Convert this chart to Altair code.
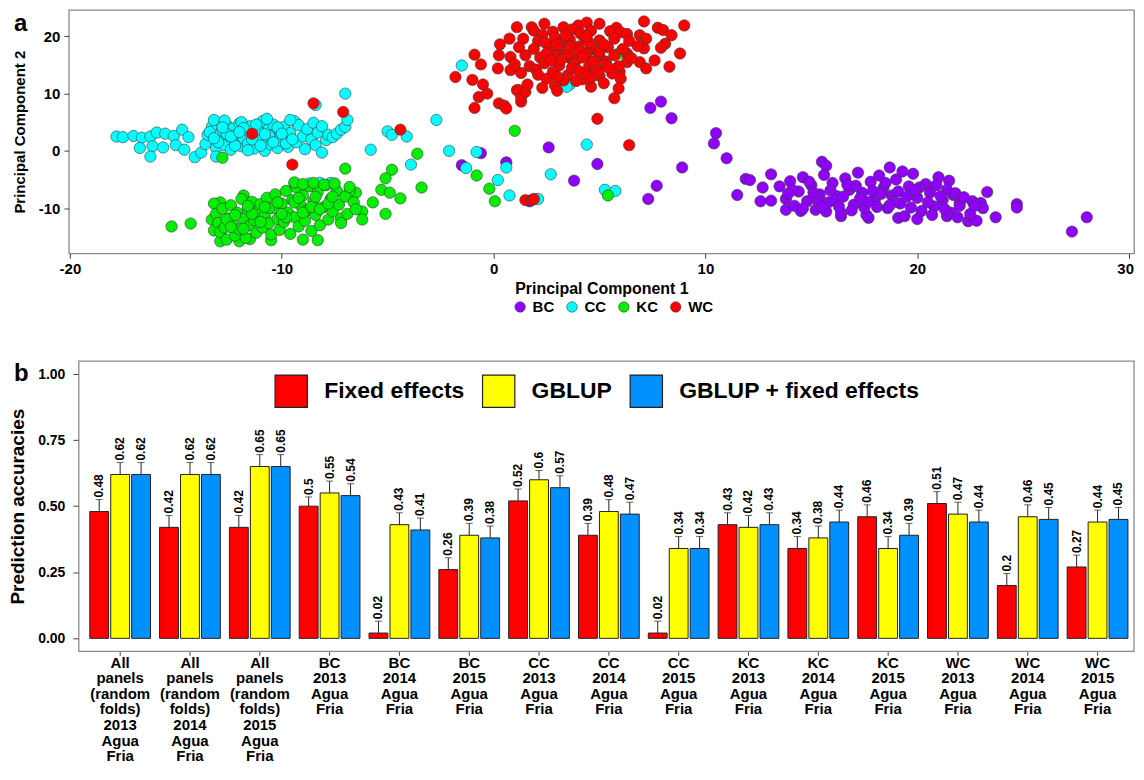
import altair as alt
import pandas as pd

FONT = "Liberation Sans"

# ---------------- Panel a: PCA scores (PC1, PC2) ----------------
populations = ["BC", "CC", "KC", "WC"]
pop_colors = ["#8f00ff", "#00ffff", "#00ee00", "#ff0000"]

bc_points = [
    [-0.6, -0.4], [-1.5, -2.5], [0.6, -2.0], [2.6, 0.6], [4.9, -2.3], [3.8, -5.2], [7.4, 7.5], [7.9, 8.6],
    [8.4, 5.7], [8.9, -2.9], [7.7, -6.1], [7.3, -8.4], [10.5, 3.1], [10.4, 1.3], [1.7, -8.8], [11.0, -1.3],
    [11.5, -7.7], [11.9, -4.9], [12.1, -5.1], [12.6, -8.8], [12.7, -6.4], [13.1, -4.1], [13.1, -8.7],
    [13.8, -10.3], [14.5, -10.5], [15.5, -1.9], [15.7, -2.6], [18.7, -2.9], [15.7, -10.6], [16.4, -11.4],
    [17.7, -11.7], [19.1, -11.7], [20.0, -11.9], [21.5, -5.2], [21.4, -11.4], [22.4, -12.3], [22.8, -12.2],
    [23.3, -7.2], [23.7, -11.6], [24.7, -9.3], [24.7, -9.9], [27.3, -14.1], [28.0, -11.6], [22.6, -8.8],
    [23.0, -9.1], [23.1, -10.0], [22.0, -9.1], [21.7, -7.7],
    [13.5, -6.2], [13.8, -8.4], [14.0, -5.3], [14.2, -9.6], [14.4, -7.1], [14.6, -4.6], [14.8, -8.8],
    [15.0, -6.0], [15.2, -10.3], [15.4, -7.6], [15.6, -4.2], [15.8, -9.0], [16.0, -5.6], [16.2, -7.9],
    [16.4, -10.8], [16.6, -4.8], [16.8, -6.8], [17.0, -9.4], [17.2, -3.8], [17.4, -7.3], [17.6, -11.2],
    [17.8, -5.4], [18.0, -8.6], [18.2, -4.3], [18.4, -6.5], [18.6, -10.0], [18.8, -7.8], [19.0, -5.0],
    [19.2, -9.2], [19.4, -11.4], [19.6, -6.2], [19.8, -4.0], [20.0, -8.2], [20.2, -10.5], [20.4, -5.8],
    [20.6, -7.3], [20.8, -9.7], [21.0, -4.6], [21.2, -8.6], [21.4, -6.8], [21.6, -10.8], [21.8, -7.4],
    [22.0, -9.6], [16.1, -8.5], [17.1, -6.1], [18.1, -9.8], [19.1, -7.1], [20.1, -6.4], [15.3, -8.7],
    [16.9, -10.4], [17.9, -7.0], [18.9, -8.9], [19.7, -9.9], [20.7, -11.2], [14.9, -5.4], [15.9, -6.9],
    [16.7, -5.9], [17.5, -9.9], [18.5, -5.6], [19.3, -3.6], [16.5, -8.0], [17.3, -8.3], [18.3, -7.5],
    [19.5, -8.0], [20.5, -9.0], [21.1, -7.9], [15.1, -7.3], [14.1, -6.8], [13.9, -7.5], [22.2, -8.1],
    [21.9, -11.6], [20.9, -6.0], [19.9, -6.9], [18.7, -9.5], [17.7, -8.9], [16.3, -9.7], [15.5, -9.8],
    [14.6, -10.1], [22.5, -11.0], [21.3, -10.2], [22.7, -9.6],
]

cc_points = [
    [-17.8, 2.5], [-17.5, 2.4], [-17.0, 2.6], [-16.6, 2.3], [-16.2, 2.5], [-15.9, 3.2], [-15.5, 3.0],
    [-15.1, 2.6], [-14.7, 3.7], [-14.4, 2.4], [-16.7, 0.5], [-16.1, 0.8], [-15.6, 0.6], [-15.0, 1.0],
    [-14.6, 0.2], [-14.1, -1.1], [-13.8, -0.3], [-16.2, -1.0],
    [-13.6, 1.2], [-13.5, 2.8], [-13.3, 4.2], [-13.2, 5.4], [-13.1, 0.5], [-12.9, 2.0], [-12.8, 3.5],
    [-12.7, 1.0], [-12.6, 4.5], [-12.5, 2.6], [-12.4, 0.2], [-12.3, 3.9], [-12.2, 1.6], [-12.1, 2.9],
    [-12.0, 4.8], [-11.9, 0.8], [-11.8, 2.2], [-11.7, 3.6], [-11.6, 1.3], [-11.5, 4.3], [-11.3, 0.4],
    [-11.2, 2.7], [-11.1, 3.4], [-11.0, 1.8], [-10.9, 5.2], [-10.8, 0.0], [-10.7, 2.3], [-10.6, 3.9],
    [-10.5, 1.1], [-10.4, 4.6], [-10.3, 2.9], [-10.2, 0.5], [-10.1, 3.5], [-10.0, 1.7], [-9.9, 4.2],
    [-9.8, 2.4], [-9.7, 0.7], [-9.6, 3.1],
    [-9.4, 5.2], [-9.3, 1.5], [-9.2, 4.5], [-9.0, 2.5], [-8.9, 0.3], [-8.8, 3.8], [-8.6, 2.0], [-8.5, 4.9],
    [-8.4, 1.0], [-8.3, 3.2], [-8.1, 4.3], [-7.9, 1.9], [-7.8, 2.8], [-7.6, 2.4], [-7.4, 3.0], [-7.2, 3.7],
    [-7.0, 4.2], [-9.6, 5.4], [-11.9, 5.0], [-12.7, 5.3],
    [-13.4, 3.3], [-13.0, 1.5], [-12.6, 3.0], [-12.2, 0.9], [-11.8, 4.0], [-11.4, 2.0], [-11.0, 0.9],
    [-10.6, 2.6], [-10.2, 4.1], [-9.8, 1.3], [-13.2, 2.2], [-12.8, 4.1], [-12.4, 2.5], [-12.0, 3.3],
    [-11.6, 0.1], [-11.2, 4.6], [-10.8, 2.9], [-10.4, 1.5], [-10.0, 3.0], [-9.5, 2.0],
    [-7.0, 10.0], [-6.9, 5.4], [-8.4, 8.0], [-5.8, 0.2], [-5.0, 3.4], [-4.8, 2.8], [-4.1, 2.5], [-3.9, -2.4],
    [-2.7, 5.4], [-2.1, 0.0], [-1.5, 14.9], [-1.3, -3.0], [-8.1, -0.3], [-10.7, 5.6], [-0.8, -0.2],
    [0.6, -2.9], [0.2, -5.1], [0.75, -7.8], [2.1, -8.4], [2.7, -4.1], [4.4, 1.1], [5.25, -6.8], [5.75, -7.0],
    [3.6, 11.6], [3.45, 11.2], [-8.7, -5.7], [-8.2, -5.6], [-7.7, -5.6], [-13.1, -1.0],
]

kc_points = [
    [-15.2, -13.2], [-14.3, -12.7], [-13.3, -12.0], [-12.8, -1.2], [-7.0, -3.1], [-3.6, -0.5], [-4.8, -3.3],
    [-5.1, -4.8], [-5.3, -6.8], [-4.9, -7.3], [-4.4, -8.3], [-3.4, -6.4], [-5.7, -9.0], [-5.1, -11.0],
    [-6.2, -10.6], [-6.2, -12.0], [-6.5, -7.3], [-6.8, -7.0], [-7.2, -11.8], [-8.3, -15.6], [-9.0, -15.5],
    [-12.9, -15.8], [-12.0, -15.8], [-11.5, -15.4], [-10.5, -15.6], [-13.2, -13.9], [-12.9, -9.0],
    [-11.8, -7.8], [-9.4, -5.7], [1.0, 3.5], [-0.8, -4.3], [-0.2, -6.6], [0.06, -8.8], [5.4, -7.8], [5.9, 17.0],
    [-13.2, -9.2], [-13.1, -11.0], [-13.0, -12.6], [-12.9, -14.2], [-12.8, -10.1], [-12.7, -13.4],
    [-12.6, -15.5], [-12.5, -11.8], [-12.4, -9.5], [-12.3, -12.9], [-12.2, -14.8], [-12.1, -10.8],
    [-12.0, -13.7], [-11.9, -8.4], [-11.8, -11.9], [-11.7, -15.2], [-11.6, -10.2], [-11.5, -13.0],
    [-11.4, -8.9], [-11.3, -12.1], [-11.2, -14.3], [-11.1, -10.6], [-11.0, -9.3], [-10.9, -13.4],
    [-10.8, -11.4], [-10.7, -8.2], [-10.6, -12.6], [-10.5, -14.6], [-10.4, -10.0], [-10.3, -7.6],
    [-10.2, -11.9], [-10.1, -13.8], [-10.0, -9.2], [-9.9, -12.4], [-9.8, -7.0], [-9.7, -10.8], [-9.6, -14.5],
    [-9.5, -8.6], [-9.4, -11.6], [-9.3, -6.4], [-9.2, -13.2], [-9.1, -9.6], [-9.0, -7.8], [-8.9, -12.2],
    [-8.8, -10.4], [-8.7, -6.2], [-8.6, -14.0], [-8.5, -8.8], [-8.4, -11.2], [-8.3, -7.2], [-8.2, -13.0],
    [-8.0, -9.8], [-7.9, -6.0], [-7.8, -12.0], [-7.7, -8.4], [-7.6, -10.6], [-7.4, -7.0], [-7.3, -9.4],
    [-7.2, -12.6], [-7.0, -8.0], [-6.9, -11.0], [-6.8, -6.3], [-6.6, -9.0], [-6.5, -10.2],
    [-9.4, -5.5], [-9.0, -5.8], [-8.5, -5.6], [-8.0, -5.9], [-7.5, -5.7],
    [-12.6, -12.0], [-12.2, -11.2], [-11.8, -13.6], [-11.4, -11.0], [-11.0, -12.4], [-10.6, -10.0],
    [-10.2, -9.0], [-9.8, -11.6], [-9.4, -9.0], [-9.0, -10.8], [-8.6, -9.8], [-8.2, -10.2], [-7.8, -9.2],
    [-12.4, -13.3], [-11.6, -9.6], [-10.8, -9.8], [-10.0, -11.0], [-9.2, -8.2], [-8.4, -8.0], [-7.6, -8.0],
]

wc_points = [
    [-11.4, 3.0], [-8.5, 8.3], [-7.1, 6.8], [-4.4, 3.7], [-9.5, -2.4], [-1.8, 12.9], [-0.9, 16.8], [-0.9, 7.5],
    [-0.7, 9.4], [-0.3, 10.0], [-0.5, 11.6], [-1.0, 12.4], [-0.6, 15.1], [0.3, 18.6], [0.25, 16.7],
    [0.2, 14.4], [0.25, 8.3], [0.5, 7.9], [0.6, 7.4], [1.1, 21.6], [1.3, 8.6], [1.1, 10.6], [0.75, 19.6],
    [0.8, 14.1], [1.8, 21.6], [2.4, 22.2], [3.3, 21.6], [4.0, 21.9], [4.4, 22.4], [5.0, 22.2], [5.8, 21.5],
    [6.0, 20.7], [6.3, 20.4], [7.1, 22.6], [6.9, 20.2], [7.2, 19.6], [7.1, 17.9], [7.75, 21.5], [8.0, 21.1],
    [8.4, 20.2], [8.1, 18.7], [7.9, 18.0], [9.0, 21.9], [8.8, 17.0], [8.3, 14.7], [7.6, 15.8], [6.9, 15.5],
    [7.2, 14.4], [6.3, 17.0], [6.3, 15.5], [5.95, 13.8], [6.0, 12.6], [5.9, 10.9], [5.7, 9.2], [4.6, 11.2],
    [4.2, 12.5], [4.9, 5.6], [6.4, 1.0], [1.5, -8.6], [1.8, -8.6], [1.9, -8.4], [1.2, 10.6], [1.3, 9.4],
    [1.5, 10.3],
    [1.9, 21.0], [2.8, 20.8], [3.7, 21.2], [4.6, 21.0], [5.5, 20.9], [4.1, 20.5], [2.3, 20.3],
    [1.4, 19.6], [2.1, 19.2], [2.9, 19.8], [3.6, 19.4], [4.3, 19.7], [5.0, 19.3], [5.7, 19.6], [6.4, 19.2],
    [3.2, 18.9], [1.2, 18.1], [1.9, 17.8], [2.6, 18.3], [3.3, 17.9], [4.0, 18.2], [4.7, 17.7], [5.4, 18.1],
    [6.1, 17.8], [6.8, 18.3], [2.9, 17.4], [4.4, 17.2], [0.8, 16.4], [1.5, 16.7], [2.2, 16.3], [2.9, 16.6],
    [3.6, 16.2], [4.3, 16.8], [5.0, 16.4], [5.7, 16.7], [6.5, 16.2], [3.9, 15.9], [5.3, 15.6], [1.0, 15.1],
    [1.7, 14.8], [2.4, 15.3], [3.1, 14.9], [3.8, 15.2], [4.5, 14.7], [5.2, 15.0], [5.9, 14.8], [2.0, 14.2],
    [4.8, 14.0], [1.3, 13.6], [2.1, 13.3], [2.8, 13.8], [3.5, 13.2], [4.2, 13.6], [5.0, 13.1], [5.6, 13.5],
    [2.5, 12.6], [3.3, 12.3], [3.9, 12.2], [4.6, 12.8], [1.6, 11.6], [2.3, 11.0], [2.9, 11.4], [5.2, 11.8],
    [3.0, 10.5],
    [2.5, 17.0], [3.0, 18.6], [3.5, 16.9], [4.0, 17.6], [4.5, 18.9], [5.0, 17.3], [2.7, 15.8], [3.2, 16.0],
    [3.7, 14.5], [4.2, 16.3], [4.7, 15.6], [5.2, 18.6], [2.4, 19.0], [3.4, 20.2], [4.4, 20.0], [5.4, 14.6],
    [3.0, 13.0], [4.0, 14.0], [3.6, 18.3], [4.9, 13.9],
]

# ---------------- Panel b: prediction accuracies ----------------
panels = [
    "All|panels|(random|folds)|2013|Agua|Fria",
    "All|panels|(random|folds)|2014|Agua|Fria",
    "All|panels|(random|folds)|2015|Agua|Fria",
    "BC|2013|Agua|Fria", "BC|2014|Agua|Fria", "BC|2015|Agua|Fria",
    "CC|2013|Agua|Fria", "CC|2014|Agua|Fria", "CC|2015|Agua|Fria",
    "KC|2013|Agua|Fria", "KC|2014|Agua|Fria", "KC|2015|Agua|Fria",
    "WC|2013|Agua|Fria", "WC|2014|Agua|Fria", "WC|2015|Agua|Fria",
]
models = ["Fixed effects", "GBLUP", "GBLUP + fixed effects"]
model_colors = ["#ff0000", "#ffff00", "#0091ff"]
acc_fixed = [0.48, 0.42, 0.42, 0.50, 0.02, 0.26, 0.52, 0.39, 0.02, 0.43, 0.34, 0.46, 0.51, 0.20, 0.27]
acc_gblup = [0.62, 0.62, 0.65, 0.55, 0.43, 0.39, 0.60, 0.48, 0.34, 0.42, 0.38, 0.34, 0.47, 0.46, 0.44]
acc_gblup_fixed = [0.62, 0.62, 0.65, 0.54, 0.41, 0.38, 0.57, 0.47, 0.34, 0.43, 0.44, 0.39, 0.44, 0.45, 0.45]
err_fixed = [0.045, 0.045, 0.045, 0.035, 0.045, 0.045, 0.045, 0.045, 0.045, 0.045, 0.045, 0.045, 0.045, 0.045, 0.045]
err_gblup = [0.045, 0.045, 0.045, 0.045, 0.045, 0.045, 0.035, 0.045, 0.045, 0.045, 0.045, 0.045, 0.045, 0.045, 0.045]
err_gblup_fixed = [0.045, 0.045, 0.045, 0.045, 0.045, 0.045, 0.045, 0.045, 0.045, 0.045, 0.045, 0.045, 0.045, 0.045, 0.045]

# ---------------- build tables ----------------
pca_rows = []
for pop, pts in zip(populations, [bc_points, cc_points, kc_points, wc_points]):
    for p1, p2 in pts:
        pca_rows.append({"PC1": p1, "PC2": p2, "Population": pop})
pca = pd.DataFrame(pca_rows)
pca["draw"] = range(len(pca))

acc_rows = []
for i, cat in enumerate(panels):
    for m, accs, errs in zip(models, [acc_fixed, acc_gblup, acc_gblup_fixed],
                             [err_fixed, err_gblup, err_gblup_fixed]):
        acc_rows.append({"Panel": cat, "Model": m, "Accuracy": accs[i], "Upper": accs[i] + errs[i]})
acc = pd.DataFrame(acc_rows)

# ---------------- panel a ----------------
A_W, A_H = 1068, 244
scatter = alt.Chart(pca).mark_circle(size=130, opacity=1, stroke="#3a3a3a", strokeWidth=0.6).encode(
    x=alt.X("PC1:Q", scale=alt.Scale(domain=[-20.05, 30.23], nice=False, zero=False),
            axis=alt.Axis(values=[-20, -10, 0, 10, 20, 30], title="Principal Component 1",
                          labelExpr="'' + datum.value",
                          labelOffset={"condition": {"test": "datum.value == 30", "value": -4}, "value": 0},
                          labelFontSize=15, labelFontWeight="bold", tickSize=5, labelPadding=3,
                          titleFontSize=16, titleFontWeight="bold", titlePadding=4)),
    y=alt.Y("PC2:Q", scale=alt.Scale(domain=[-17.9, 24.6], nice=False, zero=False),
            axis=alt.Axis(values=[-10, 0, 10, 20], title="Principal Component 2",
                          labelExpr="'' + datum.value",
                          labelFontSize=15, labelFontWeight="bold", tickSize=5, labelPadding=4,
                          titleFontSize=15, titleFontWeight="bold", titlePadding=11)),
    color=alt.Color("Population:N", scale=alt.Scale(domain=populations, range=pop_colors),
                    legend=alt.Legend(title=None, orient="none", legendX=445, legendY=290,
                                      direction="horizontal", columns=4, symbolType="circle",
                                      symbolSize=110, symbolStrokeColor="#3a3a3a", symbolStrokeWidth=0.6,
                                      symbolOpacity=1, labelFontSize=15, labelFontWeight="bold",
                                      labelFont=FONT, labelOffset=5, columnPadding=10)),
    order=alt.Order("draw:Q"),
)

letter_a = alt.Chart(pd.DataFrame({"t": ["a"]})).mark_text(
    font=FONT, fontSize=24, fontWeight="bold", align="left", baseline="alphabetic", color="black"
).encode(text="t:N", x=alt.value(-55), y=alt.value(21))

panel_a = alt.layer(scatter, letter_a).properties(width=A_W, height=A_H)

# ---------------- panel b ----------------
B_W, B_H = 1068, 291   # panel b frame starts 10 px to the right of panel a's left edge
B_SHIFT = 10

xenc = alt.X("Panel:N", sort=panels,
             scale=alt.Scale(paddingInner=0.13, paddingOuter=0.1936, align=0.775),
             axis=alt.Axis(title=None, labelExpr="split(datum.value, '|')", labelAngle=0,
                           labelFontSize=15, labelFontWeight="bold", labelLineHeight=15.6,
                           labelBaseline="top", labelPadding=0, tickSize=4, labelLimit=300,
                           labelOverlap=False, labelAlign="center"))
xoff = alt.XOffset("Model:N", sort=models, scale=alt.Scale(paddingInner=0.1, paddingOuter=0))
yscale = alt.Scale(domain=[-0.049, 1.049], nice=False, zero=False)
ytitle = "Prediction accuracies"

frame = alt.Chart(pd.DataFrame({"f": [0]})).mark_rect(
    fillOpacity=0, stroke="#8a8a8a", strokeWidth=1.3
).encode(x=alt.value(B_SHIFT), x2=alt.value(B_W), y=alt.value(0), y2=alt.value(B_H))

bars = alt.Chart(acc).mark_bar(stroke="#222222", strokeWidth=1).encode(
    x=xenc, xOffset=xoff,
    y=alt.Y("Accuracy:Q", scale=yscale, stack=None, title=ytitle,
            axis=alt.Axis(values=[0, 0.25, 0.5, 0.75, 1.0], format=".2f", offset=-B_SHIFT,
                          labelFontSize=14, labelFontWeight="bold", tickSize=6, labelPadding=8,
                          titleFontSize=19, titleFontWeight="bold", titlePadding=10)),
    fill=alt.Fill("Model:N", scale=alt.Scale(domain=models, range=model_colors),
                  legend=alt.Legend(title=None, orient="none", legendX=206, legendY=13,
                                    direction="horizontal", columns=3, symbolType="square",
                                    symbolSize=1050, symbolStrokeColor="#222222", symbolStrokeWidth=1.2,
                                    symbolOpacity=1, labelFontSize=23, labelFontWeight="bold",
                                    labelFont=FONT, labelOffset=16, columnPadding=15, labelLimit=500)),
)

err_rule = alt.Chart(acc).mark_rule(color="#222222", strokeWidth=1).encode(
    x=xenc, xOffset=xoff,
    y=alt.Y("Accuracy:Q", scale=yscale, title=ytitle), y2="Upper:Q",
)

cap = alt.Chart(acc).mark_tick(color="#222222", thickness=1, size=7).encode(
    x=xenc, xOffset=xoff, y=alt.Y("Upper:Q", scale=yscale, title=ytitle),
)

value_labels = alt.Chart(acc).mark_text(
    angle=270, align="left", baseline="middle", dx=2, font=FONT, fontSize=12, fontWeight="bold", color="black"
).encode(
    x=xenc, xOffset=xoff, y=alt.Y("Upper:Q", scale=yscale, title=ytitle),
    text=alt.Text("Accuracy:Q", format=".2~f"),
)

letter_b = alt.Chart(pd.DataFrame({"t": ["b"]})).mark_text(
    font=FONT, fontSize=24, fontWeight="bold", align="left", baseline="alphabetic", color="black"
).encode(text="t:N", x=alt.value(-55), y=alt.value(20))

panel_b = alt.layer(frame, bars, err_rule, cap, value_labels, letter_b).properties(
    width=B_W, height=B_H, view=alt.ViewBackground(stroke="transparent")
)

chart = alt.ConcatChart(
    concat=[panel_a, panel_b], columns=1, spacing=43,
    padding={"left": 0, "top": 0, "right": 0, "bottom": 0}, background="white",
).resolve_scale(
    color="independent", fill="independent"
).resolve_legend(
    color="independent", fill="independent"
).configure_view(
    stroke="#8a8a8a", strokeWidth=1.3
).configure_axis(
    grid=False, domain=False, labelColor="black", titleColor="black", tickColor="#444444",
    labelFont=FONT, titleFont=FONT
).configure_legend(
    labelFont=FONT, labelColor="black"
)

chart.save("out.html", embed_options={"renderer": "svg", "actions": False})
